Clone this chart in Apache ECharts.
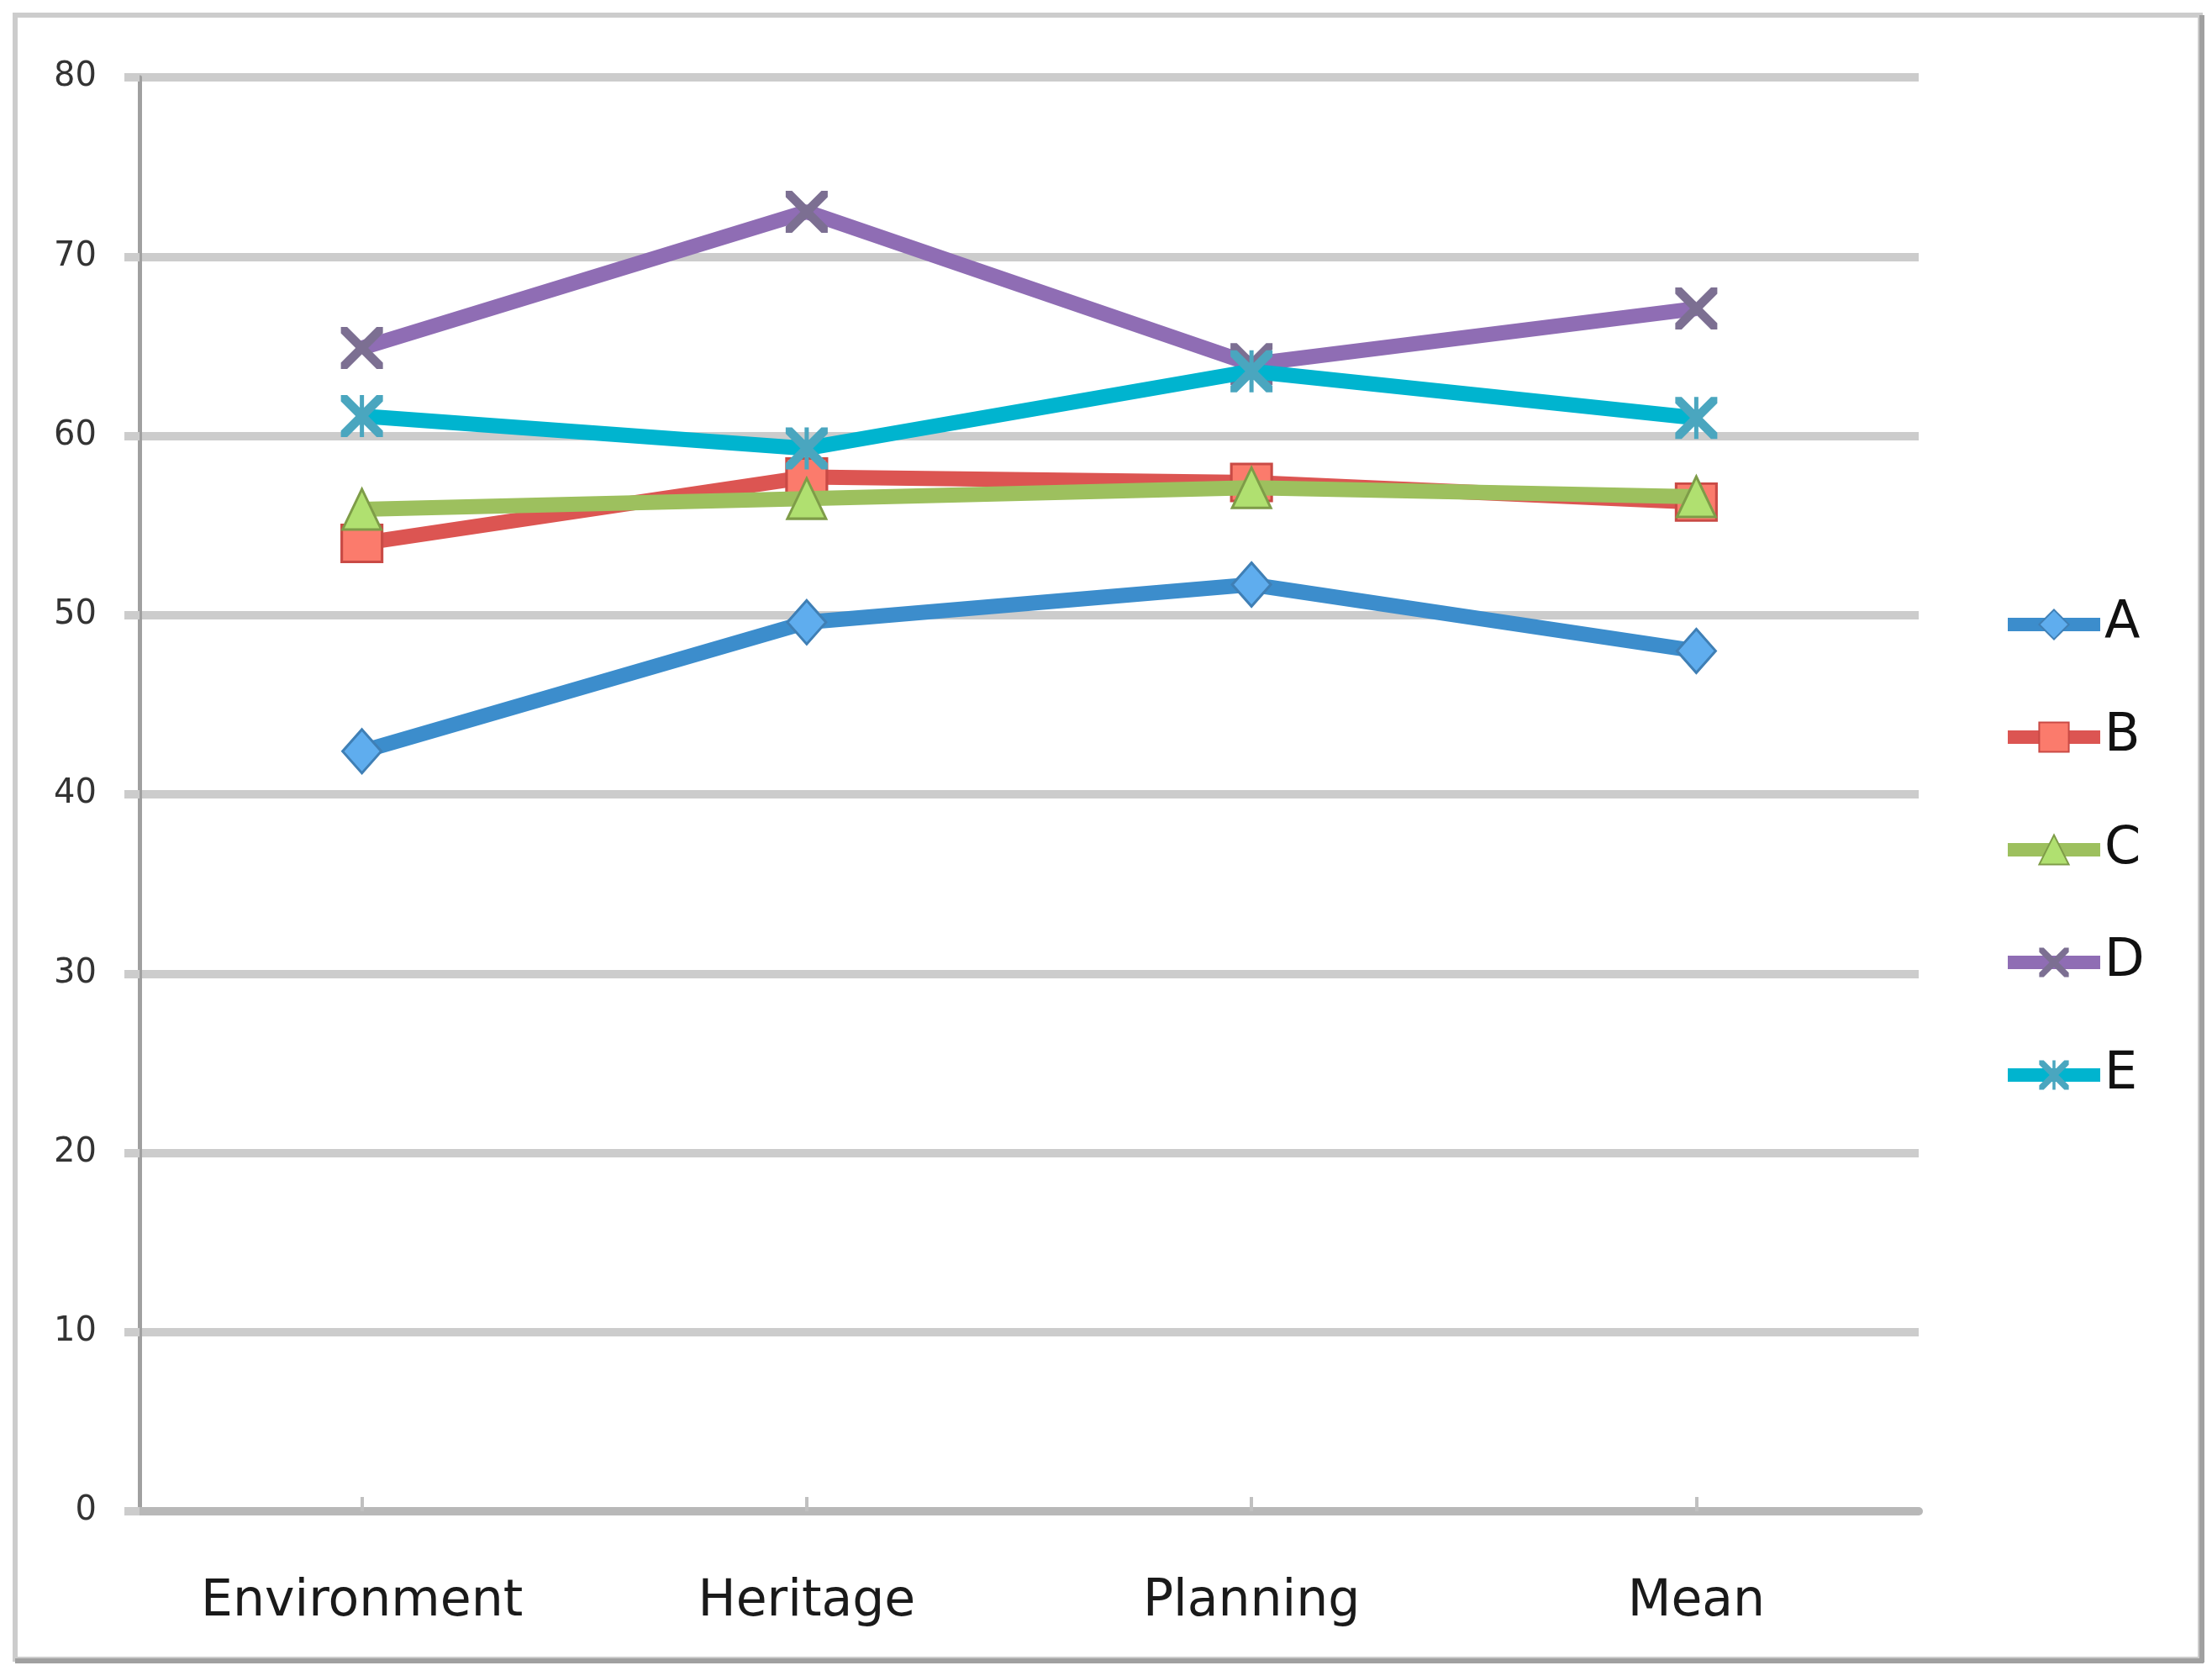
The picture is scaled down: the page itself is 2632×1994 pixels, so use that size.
<!DOCTYPE html>
<html>
<head>
<meta charset="utf-8">
<script src="https://cdn.jsdelivr.net/npm/echarts@6/dist/echarts.min.js"></script>
<style>
html,body{margin:0;padding:0;background:#fff;}
#chart{width:2632px;height:1994px;}
</style>
</head>
<body>
<div id="chart"></div>
<script>
const categories = ['Environment', 'Heritage', 'Planning', 'Mean'];
const seriesNames = ['A', 'B', 'C', 'D', 'E'];
const valuesA = [42.4, 49.6, 51.7, 48.0];
const valuesB = [54.0, 57.7, 57.4, 56.3];
const valuesC = [55.9, 56.5, 57.1, 56.6];
const valuesD = [64.9, 72.5, 64.0, 67.1];
const valuesE = [61.1, 59.3, 63.6, 61.0];
const yTicks = [0, 10, 20, 30, 40, 50, 60, 70, 80];

const X_PATH = 'path://M0,0 L3,0 L10,7 L17,0 L20,0 L20,3 L13,10 L20,17 L20,20 L17,20 L10,13 L3,20 L0,20 L0,17 L7,10 L0,3 Z';
const STAR_PATH = 'path://M0,0 L3,0 L10,7 L17,0 L20,0 L20,3 L13,10 L20,17 L20,20 L17,20 L10,13 L3,20 L0,20 L0,17 L7,10 L0,3 Z M9,0 L11,0 L11,20 L9,20 Z';

const styles = [
  {line:'#3c8dcc', fill:'#5fadee', border:'#3f7fb5', symbol:'diamond', size:[46,52]},
  {line:'#dc5552', fill:'#fb7b6c', border:'#c94a45', symbol:'rect', size:[48,44]},
  {line:'#9dc05e', fill:'#b0e070', border:'#7e9c48', symbol:'triangle', size:[46,48]},
  {line:'#8f6db4', fill:'#7c6f92', border:'#7c6f92', symbol:X_PATH, size:[50,50]},
  {line:'#00b4cf', fill:'#4aa6bf', border:'#4aa6bf', symbol:STAR_PATH, size:[50,50]}
];
const allValues = [valuesA, valuesB, valuesC, valuesD, valuesE];

const chart = echarts.init(document.getElementById('chart'), null, {renderer:'canvas'});
chart.setOption({
  animation: false,
  backgroundColor: '#ffffff',
  graphic: [
    {type:'rect', shape:{x:18, y:18, width:2600, height:1956}, style:{fill:'none', stroke:'#cccccc', lineWidth:6}, z:-1},
    {type:'line', shape:{x1:2620, y1:18, x2:2620, y2:1978}, style:{stroke:'#a0a0a0', lineWidth:6}, z:-1},
    {type:'line', shape:{x1:18, y1:1976, x2:2622, y2:1976}, style:{stroke:'#a0a0a0', lineWidth:6}, z:-1}
  ],
  grid: {left:166, right:349, top:92, bottom:196, containLabel:false},
  legend: {
    orient:'vertical',
    left:2376,
    top:707,
    itemWidth:110,
    itemHeight:44,
    itemGap:72,
    lineStyle:{width:16},
    textStyle:{fontFamily:'DejaVu Sans', fontSize:62, color:'#111', lineHeight:62},
    data: seriesNames
  },
  xAxis: {
    type:'category',
    data: categories,
    boundaryGap:true,
    axisLine:{show:true, lineStyle:{color:'#b8b8b8', width:10}},
    axisTick:{show:true, inside:true, alignWithLabel:true, length:17, lineStyle:{color:'#c0c0c0', width:4}},
    axisLabel:{fontFamily:'DejaVu Sans', fontSize:60, color:'#1a1a1a', margin:78},
    splitLine:{show:false}
  },
  yAxis: {
    type:'value',
    min: yTicks[0],
    max: yTicks[yTicks.length-1],
    interval: yTicks[1]-yTicks[0],
    axisLine:{show:true, lineStyle:{color:'#a0a0a0', width:5}},
    axisTick:{show:true, length:18, lineStyle:{color:'#cccccc', width:10}},
    axisLabel:{fontFamily:'DejaVu Sans', fontSize:40, color:'#333', margin:51},
    splitLine:{show:true, lineStyle:{color:'#cccccc', width:10}}
  },
  series: seriesNames.map((name, i) => ({
    name: name,
    type:'line',
    data: allValues[i],
    symbol: styles[i].symbol,
    symbolSize: styles[i].size,
    lineStyle:{color:styles[i].line, width:18},
    itemStyle:{color:styles[i].fill, borderColor:styles[i].border, borderWidth:(i>=3?0:3)},
    emphasis:{disabled:true},
    z: 2 + i
  }))
});
</script>
</body>
</html>
